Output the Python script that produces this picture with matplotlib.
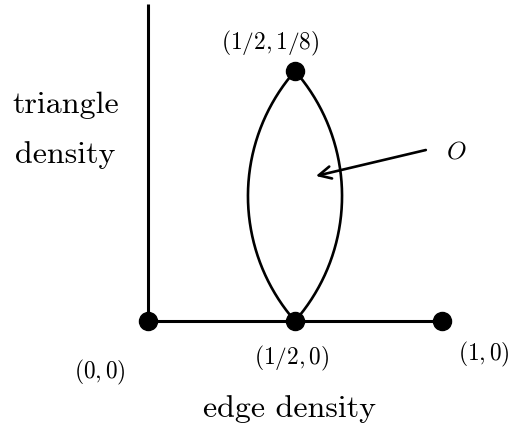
import numpy as np
import matplotlib
matplotlib.use("Agg")
import matplotlib.pyplot as plt

plt.rcParams['mathtext.fontset'] = 'cm'
plt.rcParams['font.family'] = 'cmr10'

# points of the diagram (edge density, triangle density)
point_x = [0.0, 0.5, 1.0, 0.5]
point_y = [0.0, 0.0, 0.0, 1 / 8]
point_labels = [r"$(0,0)$", r"$(1/2,0)$", r"$(1,0)$", r"$(1/2,1/8)$"]
label_pos = [(-0.163, -0.0252), (0.488, -0.0182), (1.141, -0.016), (0.415, 0.1395)]

lens_bulge = 0.16      # half width of the lens in edge density
y_axis_top = 0.1585
arrow_tail = (0.945, 0.0855)
arrow_head = (0.571, 0.0725)

fig = plt.figure(figsize=(5.09, 4.27), dpi=100)
ax = fig.add_axes([0, 0, 1, 1])
ax.set_xlim(-0.5034, 1.2279)
ax.set_ylim(-0.0525, 0.161)
ax.axis('off')

# axes lines
ax.plot([0, 0], [0, y_axis_top], color='k', lw=2.2, solid_capstyle='butt', zorder=2)
ax.plot([0, 1], [0, 0], color='k', lw=2.2, zorder=2)

# lens: two circular arcs (circle in pixel space) between (1/2,0) and (1/2,1/8)
sx, sy = 294.0, 2000.0          # px per data unit
half = (point_y[3] - point_y[1]) / 2 * sy
b = lens_bulge * sx
R = (half ** 2 + b ** 2) / (2 * b)
phi = np.arcsin(half / R)
t = np.linspace(-phi, phi, 200)
yc = (point_y[3] + point_y[1]) / 2
for side in (1, -1):
    dx = side * (R * np.cos(t) - (R - b)) / sx
    dy = R * np.sin(t) / sy
    ax.plot(0.5 + dx, yc + dy, color='k', lw=1.9, zorder=2)

ax.plot(point_x, point_y, 'o', color='k', ms=13, zorder=3)

for lab, (lx, ly) in zip(point_labels, label_pos):
    ax.text(lx, ly, lab, fontsize=16.8, ha='center', va='center')

ax.annotate('', xy=arrow_head, xytext=arrow_tail,
            arrowprops=dict(arrowstyle='->', color='k', lw=1.9,
                            mutation_scale=22, shrinkA=0, shrinkB=0))
ax.text(1.05, 0.085, r"$O$", fontsize=18, ha='center', va='center')

ax.text(-0.281, 0.1085, "triangle", fontsize=23, ha='center', va='center')
ax.text(-0.281, 0.0835, "density", fontsize=23, ha='center', va='center')
ax.text(0.48, -0.0435, "edge density", fontsize=23, ha='center', va='center')

fig.savefig("out.png", dpi=100)
